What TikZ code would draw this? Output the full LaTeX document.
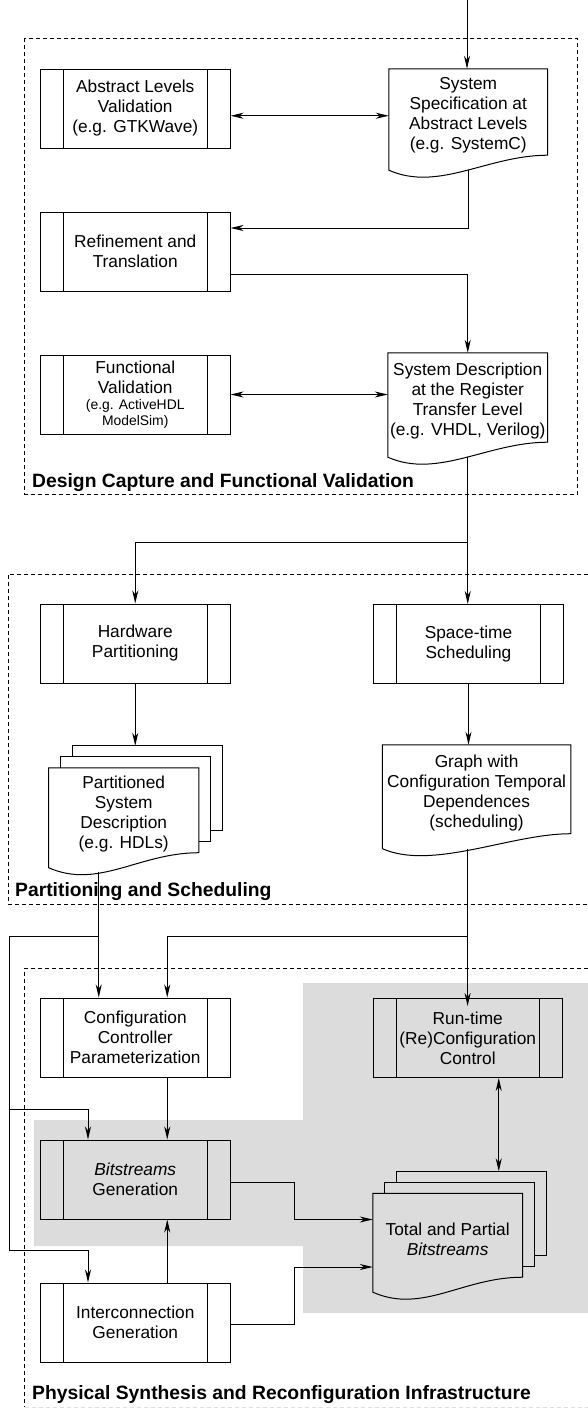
\documentclass[tikz,border=0pt]{standalone}
\usepackage{fontspec}
\setmainfont{Liberation Sans}
\usetikzlibrary{arrows.meta, positioning}
\definecolor{bggray}{RGB}{220,220,220}
\newcommand{\smalltext}{\fontsize{13.9}{15.5}\selectfont}

\begin{document}
\begin{tikzpicture}[
        x=1pt, y=1pt,
        node distance=63pt,
        every node/.style={font=\fontsize{17.3}{20}\selectfont},
        procbox/.style={rectangle, draw=black, line width=1pt, minimum width=189.5pt, minimum height=79pt, align=center, inner sep=0pt,
            path picture={\draw[line width=1pt]
                ([xshift=23pt]path picture bounding box.north west) -- ([xshift=23pt]path picture bounding box.south west)
                ([xshift=-23pt]path picture bounding box.north east) -- ([xshift=-23pt]path picture bounding box.south east);}},
        docnode/.style={rectangle, minimum width=#1, align=center, inner sep=0pt},
        docline/.style={line width=1pt, line join=miter},
        groupframe/.style={dash pattern=on 4pt off 3pt, line width=0.9pt},
        grouplabel/.style={font=\fontsize{19.3}{22}\selectfont\bfseries, inner sep=0pt, anchor=west},
        arrow/.style={line width=1pt, -{Stealth[length=13pt, width=6pt, inset=4pt]}},
        biarrow/.style={line width=1pt, {Stealth[length=13pt, width=6pt, inset=4pt]}-{Stealth[length=13pt, width=6pt, inset=4pt]}}
    ]
        \useasboundingbox (0,0) rectangle (588,-1408);

        % Shaded area
        \fill[bggray] (303,-983) -- (588,-983) -- (588,-1313) -- (303,-1313) -- (303,-1246)
            -- (33.75,-1246) -- (33.75,-1120) -- (303,-1120) -- cycle;

        % Frames
        \draw[groupframe] (24.75,-38) rectangle (577.5,-494);
        \draw[groupframe] (588,-574) -- (8.25,-574) -- (8.25,-904) -- (588,-904);
        \draw[groupframe] (588,-968) -- (24.75,-968) -- (24.75,-1407);
        \draw[groupframe, gray!25] (24.75,-1407) -- (588,-1407);

        \node[grouplabel] (lbldesign) at (32,-483) {Design Capture and Functional Validation};
        \node[grouplabel] (lblpart) at (15,-892) {Partitioning and Scheduling};
        \node[grouplabel] (lblphys) at (32,-1395) {Physical Synthesis and Reconfiguration Infrastructure};

        % Nodes
        \node[procbox] (alv) at (135.25,-108.5) {Abstract Levels\\Validation\\(e.g. GTKWave)};
        \node[procbox, below=of alv] (refine) {Refinement and\\Translation};
        \node[procbox, below=of refine] (funcval) {Functional\\Validation\\[-4pt]\smalltext (e.g. ActiveHDL\\[-4pt]\smalltext ModelSim)};
        \node[docnode=158.5pt, minimum height=93.5pt] (sysspec) at (468.25,-115.75) {System\\Specification at\\Abstract Levels\\(e.g. SystemC)};
        \node[docnode=159.5pt, minimum height=96.5pt] (sysdesc) at (467.75,-401.25) {System Description\\at the Register\\Transfer Level\\(e.g. VHDL, Verilog)};

        \node[procbox] (hwpart) at (135.25,-643.5) {Hardware\\Partitioning};
        \node[procbox] (sched) at (468.5,-644) {Space-time\\Scheduling};
        \node[docnode=150pt, minimum height=92pt] (partdoc) at (123.75,-814) {Partitioned\\System\\Description\\(e.g. HDLs)};
        \node[docnode=188pt, minimum height=96pt] (graphdoc) at (476.6,-793) {Graph with\\Configuration Temporal\\Dependences\\(scheduling)};

        \node[procbox] (ccparam) at (135.25,-1037.5) {Configuration\\Controller\\Parameterization};
        \node[procbox, below=62pt of ccparam] (bsgen) {\textit{Bitstreams}\\Generation};
        \node[procbox, below=of bsgen] (icgen) {Interconnection\\Generation};
        \node[procbox] (rtctrl) at (467.75,-1038) {Run-time\\(Re)Configuration\\Control};
        \node[docnode=149.4pt, minimum height=91pt] (bsdoc) at (447.7,-1239) {Total and Partial\\\textit{Bitstreams}};

        % Document outlines
        \foreach \d in {sysspec, sysdesc, partdoc, graphdoc, bsdoc}
            \draw[docline] (\d.north west) -- (\d.north east) -- ([yshift=7.5pt]\d.south east)
                .. controls +(-60,0) and +(50,-22) .. ([yshift=-7.5pt]\d.south west) -- cycle;
        \foreach \d in {partdoc, bsdoc}
            \foreach \k in {1,2}
                \draw[docline] ([shift={(12*\k,11*\k-11)}]\d.north west) -- ([shift={(12*\k,11*\k)}]\d.north west)
                    -- ([shift={(12*\k,11*\k)}]\d.north east) -- ([shift={(12*\k,7.5+11*\k)}]\d.south east)
                    -- ([shift={(12*\k-12,7.5+11*\k)}]\d.south east);

        % Junctions
        \coordinate (input) at (467,0);
        \coordinate (splitsys) at (467.6,-542);
        \coordinate (tappart) at (98.75,-936);
        \coordinate (busleft) at (9.4,-936);
        \coordinate (busbs) at (88,-1109);
        \coordinate (busic) at (88,-1250);
        \coordinate (tapgraph) at (467.6,-936);
        \coordinate (parttop) at ([yshift=22pt]partdoc.north);
        \coordinate (bstop) at ([yshift=22pt]bsdoc.north);

        % Arrows
        \draw[arrow] (input) -- (input |- sysspec.north);
        \draw[biarrow] (sysspec.west) -- (sysspec.west -| alv.east);
        \draw[arrow] ([yshift=-7pt]sysspec.south) |- ([yshift=23.5pt]refine.east);
        \draw[arrow] ([yshift=-22.5pt]refine.east) -| (sysdesc.north);
        \draw[biarrow] (funcval.east) -- (funcval.east -| sysdesc.west);

        \draw[arrow] ([yshift=-7pt]sysdesc.south) -- (sysdesc.south |- sched.north);
        \draw[arrow] (splitsys) -| (hwpart.north);
        \draw[arrow] (hwpart.south) -- (hwpart.south |- parttop);
        \draw[arrow] (sched.south) -- (sched.south |- graphdoc.north);

        \draw[arrow] ([shift={(-25,-12)}]partdoc.south) -- ([xshift=-36.5pt]ccparam.north);
        \draw[arrow] (tappart) -- (busleft) |- (busbs) -- ([xshift=-47.25pt]bsgen.north);
        \draw[arrow] (busleft) |- (busic) -- ([xshift=-47.25pt]icgen.north);
        \draw[arrow] ([shift={(-9,-8)}]graphdoc.south) -- ([shift={(-9,-8)}]graphdoc.south |- rtctrl.north);
        \draw[arrow] (tapgraph) -| ([xshift=32pt]ccparam.north);

        \draw[arrow] ([xshift=32pt]ccparam.south) -- ([xshift=32pt]bsgen.north);
        \draw[arrow] ([xshift=32pt]icgen.north) -- ([xshift=32pt]bsgen.south);
        \draw[biarrow] ([xshift=31pt]rtctrl.south) -- ([xshift=31pt]rtctrl.south |- bstop);
        \draw[arrow] ([yshift=-3pt]bsgen.east) -- ++(63.6,0) |- ([yshift=19.5pt]bsdoc.west);
        \draw[arrow] ([yshift=-1.5pt]icgen.east) -- ++(63.6,0) |- ([yshift=-28pt]bsdoc.west);
    \end{tikzpicture}
\end{document}
